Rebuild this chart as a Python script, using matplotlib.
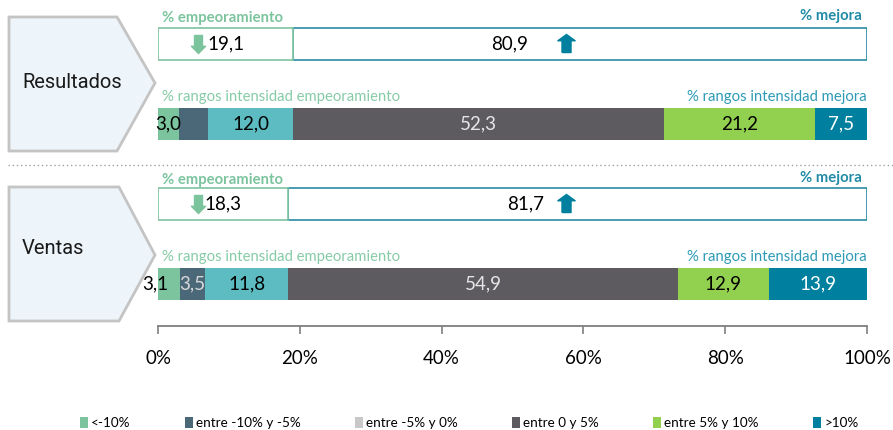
import numpy as np
import matplotlib.pyplot as plt
from matplotlib.patches import Polygon, Patch
from matplotlib.path import Path

# ----------------------------------------
# Data
# ----------------------------------------
groups = ['Resultados', 'Ventas']
empeora = [19.1, 18.3]
mejora = [80.9, 81.7]

categories = ['<-10%', 'entre -10% y -5%', 'entre -5% y 0%',
              'entre 0 y 5%', 'entre 5% y 10%', '>10%']
resultados_rangos = [3.0, 4.1, 12.0, 52.3, 21.2, 7.5]
ventas_rangos = [3.1, 3.5, 11.8, 54.9, 12.9, 13.9]
resultados_labels = ['3,0', '', '12,0', '52,3', '21,2', '7,5']
ventas_labels = ['3,1', '3,5', '11,8', '54,9', '12,9', '13,9']
ticks = [0, 20, 40, 60, 80, 100]

# ----------------------------------------
# Styles / layout (pixel units, figure is 893x430)
# ----------------------------------------
W, H = 893, 430
bar_colors = ['#7cc49e', '#4b6878', '#5cbcc1', '#5d5b60', '#92d050', '#00809e']
legend_colors = ['#7cc49e', '#4b6878', '#c8c8c8', '#5d5b60', '#92d050', '#00809e']
text_colors = ['black', '#d8d8d8', 'black', '#e6e6e6', 'black', 'white']
green_txt = '#7cc49e'
teal_txt = '#1f8ba6'
FONT = 'Lato'

box_y = [44, 204]        # centre of the empeoramiento / mejora boxes
rango_y = [124, 284]     # centre of the stacked range bars
bar_h = 32
better_label_x = [49.6, 51.9]
up_arrow_x = 57.5
down_arrow_x = 5.6
nudge = {(1, 0): -2.0}

fig = plt.figure(figsize=(W / 100, H / 100), dpi=100)

# overlay axes in pixel coordinates for the decorations
over = fig.add_axes([0, 0, 1, 1])
over.set_xlim(0, W)
over.set_ylim(H, 0)
over.axis('off')

pentagons = [[(9, 17), (117, 17), (155, 83), (117, 151), (9, 151)],
             [(9, 187), (119, 187), (155, 255), (119, 321), (9, 321)]]
name_y = [82, 248]
for pts, name, ny in zip(pentagons, groups, name_y):
    over.add_patch(Polygon(pts, closed=True, facecolor='#edf4fa',
                           edgecolor='#c4c4c4', linewidth=2))
    over.text(22, ny, name, fontsize=14.5, family='Roboto',
              va='center', ha='left', color='#1a1a1a')

over.plot([8, W], [165, 165], linestyle=(0, (1, 2)), color='#a0a0a0', linewidth=1)

# main axes: x in percent, y in pixels from the top
l, r, b = 158, 867, 326
ax = fig.add_axes([l / W, 1 - b / H, (r - l) / W, b / H])
ax.set_xlim(0, 100)
ax.set_ylim(b, 0)
ax.patch.set_visible(False)
for s in ['top', 'left', 'right']:
    ax.spines[s].set_visible(False)
ax.spines['bottom'].set_color('#7f7f7f')
ax.spines['bottom'].set_linewidth(1.3)
ax.set_yticks([])
ax.set_xticks(ticks)
ax.set_xticklabels([f'{t}%' for t in ticks], fontsize=13.5, family=FONT)
ax.tick_params(axis='x', direction='out', length=6, width=1.2,
               color='#7f7f7f', pad=11)

# arrow markers
down_path = Path([(-0.22, 0.5), (0.22, 0.5), (0.22, -0.1), (0.39, -0.1),
                  (0, -0.5), (-0.39, -0.1), (-0.22, -0.1), (-0.22, 0.5)])
up_path = Path([(-0.25, -0.5), (0.25, -0.5), (0.25, 0.15), (0.48, 0.15),
                (0, 0.5), (-0.48, 0.15), (-0.25, 0.15), (-0.25, -0.5)])

rangos = [resultados_rangos, ventas_rangos]
labels = [resultados_labels, ventas_labels]
hdr_offset = [-26, -24]

for i in range(len(groups)):
    y = box_y[i]
    # empeoramiento / mejora boxes
    ax.barh(y, mejora[i], left=empeora[i], height=bar_h, color='white',
            edgecolor='#2a8aa5', linewidth=1.2)
    ax.barh(y, empeora[i], height=bar_h, color='white',
            edgecolor=green_txt, linewidth=1.2)
    ax.text(empeora[i] / 2, y, f'{empeora[i]:.1f}'.replace('.', ','),
            fontsize=13.5, family=FONT, ha='center', va='center')
    ax.text(better_label_x[i], y, f'{mejora[i]:.1f}'.replace('.', ','),
            fontsize=13.5, family=FONT, ha='center', va='center')
    ax.plot(down_arrow_x, y, marker=down_path, markersize=13,
            color=green_txt, linestyle='none')
    ax.plot(up_arrow_x, y - 1, marker=up_path, markersize=13,
            color='#00809e', linestyle='none')
    ax.text(0.6, y + hdr_offset[i], '% empeoramiento', fontsize=10.7,
            fontweight='bold', family=FONT, color=green_txt,
            ha='left', va='center')
    ax.text(99.3, y + hdr_offset[i] - 2, '% mejora', fontsize=10.7,
            fontweight='bold', family=FONT, color=teal_txt,
            ha='right', va='center')

    # stacked range bar
    yr = rango_y[i]
    left = 0
    for j, v in enumerate(rangos[i]):
        ax.barh(yr, v, left=left, height=bar_h, color=bar_colors[j], linewidth=0)
        if labels[i][j]:
            ax.text(left + v / 2 + nudge.get((i, j), 0), yr, labels[i][j],
                    fontsize=13.5, family=FONT, color=text_colors[j],
                    ha='center', va='center')
        left += v
    ax.text(0.6, yr - 27, '% rangos intensidad empeoramiento', fontsize=10.7,
            family=FONT, color='#86cba6', ha='left', va='center')
    ax.text(100, yr - 27, '% rangos intensidad mejora', fontsize=10.7,
            family=FONT, color='#2e9ab5', ha='right', va='center')

# legend
handles = [Patch(facecolor=c, edgecolor='none') for c in legend_colors]
fig.legend(handles, categories, loc='center', bbox_to_anchor=(469 / W, 1 - 423 / H),
           ncol=6, frameon=False, prop={'family': FONT, 'size': 9.7},
           handlelength=0.6, handleheight=0.9, handletextpad=0.25,
           columnspacing=4.0)

plt.savefig('out.png', dpi=100)
